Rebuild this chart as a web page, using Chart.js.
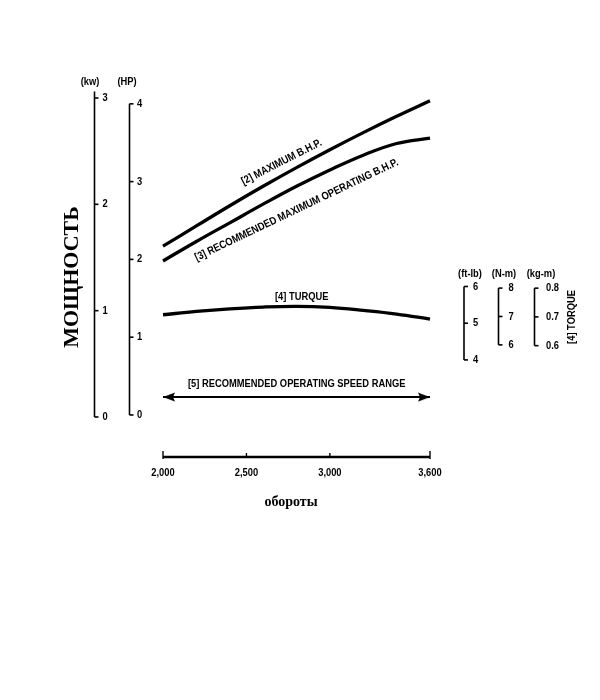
<!DOCTYPE html>
<html>
<head>
<meta charset="utf-8">
<title>Мощность</title>
<script src="https://cdn.jsdelivr.net/npm/chart.js@4.4.1/dist/chart.umd.min.js"></script>
<style>
  html, body { margin: 0; padding: 0; background: #fff; }
  #wrap { width: 600px; height: 700px; position: relative; }
</style>
</head>
<body>
<div id="wrap"><canvas id="powerChart"></canvas></div>
<script>
// engine speed, rpm
var rpm = [2000, 2200, 2400, 2600, 2800, 3000, 3200, 3400, 3600];
// [2] maximum b.h.p., HP
var maxBhp = [2.17, 2.43, 2.69, 2.94, 3.18, 3.41, 3.63, 3.84, 4.04];
// [3] recommended maximum operating b.h.p., HP
var recBhp = [1.98, 2.23, 2.47, 2.71, 2.94, 3.15, 3.34, 3.49, 3.56];
// [4] torque, ft-lb
var torque = [5.23, 5.32, 5.39, 5.44, 5.46, 5.43, 5.35, 5.25, 5.11];
// [5] recommended operating speed range
var speedRange = [2000, 3600];
var speedRangeLevel = 0.23;

var rpmTicks = [2000, 2500, 3000, 3600];
var kwTicks = [0, 1, 2, 3];
var hpTicks = [0, 1, 2, 3, 4];
var ftlbTicks = [4, 5, 6];
var nmTicks = [6, 7, 8];
var kgmTicks = [0.6, 0.7, 0.8];

var SANS = '"Liberation Sans", Arial, sans-serif';
var SERIF = '"Liberation Serif", "DejaVu Serif", serif';

function pairs(xs, ys) {
    return xs.map(function(x, i) { return {x: x, y: ys[i]}; });
}

function fmtRpm(v) {
    return v.toLocaleString('en-US');
}

// arrow head whose tip sits at the centre of the image
function arrowHead() {
    var c = document.createElement('canvas');
    c.width = 26; c.height = 10;
    var g = c.getContext('2d');
    g.fillStyle = '#000';
    g.beginPath();
    g.moveTo(13, 5);
    g.lineTo(1, 0.5);
    g.lineTo(3, 5);
    g.lineTo(1, 9.5);
    g.closePath();
    g.fill();
    return c;
}

function text(ctx, str, x, y, opts) {
    opts = opts || {};
    ctx.save();
    ctx.translate(x, y);
    if (opts.angle) ctx.rotate(opts.angle * Math.PI / 180);
    ctx.scale(opts.sx || 0.85, 1);
    ctx.font = opts.font || ('bold 11px ' + SANS);
    ctx.textAlign = opts.align || 'center';
    ctx.textBaseline = 'middle';
    ctx.fillText(str, 0, 0);
    ctx.restore();
}

function bracketAxis(ctx, scale, x, ticks, from, to, gap, fmt) {
    ctx.lineWidth = 1.6;
    ctx.beginPath();
    ctx.moveTo(x, scale.getPixelForValue(from));
    ctx.lineTo(x, scale.getPixelForValue(to));
    ctx.stroke();
    ticks.forEach(function(t) {
        var y = scale.getPixelForValue(t);
        ctx.beginPath();
        ctx.moveTo(x, y);
        ctx.lineTo(x + 4, y);
        ctx.stroke();
        text(ctx, fmt ? fmt(t) : String(t), x + gap, y, {align: 'left'});
    });
}

var axesPlugin = {
    id: 'bracketAxes',
    afterDraw: function(chart) {
        var ctx = chart.ctx;
        var s = chart.scales;
        var area = chart.chartArea;
        ctx.save();
        ctx.fillStyle = '#000';
        ctx.strokeStyle = '#000';

        // power axes
        bracketAxis(ctx, s.yKw, 94.5, kwTicks, 3.06, 0, 8);
        bracketAxis(ctx, s.yHp, 129.5, hpTicks, 4, 0, 7.5);
        text(ctx, '(kw)', 90, 82);
        text(ctx, '(HP)', 127, 82);
        text(ctx, 'МОЩНОСТЬ', 72, 277, {angle: -90, sx: 1, font: 'bold 22px ' + SERIF});

        // torque axes
        bracketAxis(ctx, s.yFtlb, 464, ftlbTicks, 6, 4, 9);
        bracketAxis(ctx, s.yNm, 498.5, nmTicks, 8, 6, 10);
        bracketAxis(ctx, s.yKgm, 534.5, kgmTicks, 0.8, 0.6, 11.5, function(v) { return v.toFixed(1); });
        text(ctx, '(ft-lb)', 470, 274);
        text(ctx, '(N-m)', 504, 274);
        text(ctx, '(kg-m)', 541, 274);
        text(ctx, '[4] TORQUE', 572, 317, {angle: -90});

        // speed axis
        var yAxis = area.bottom + 40;
        var x0 = s.x.getPixelForValue(rpmTicks[0]);
        var x1 = s.x.getPixelForValue(rpmTicks[rpmTicks.length - 1]);
        ctx.lineWidth = 2.4;
        ctx.beginPath();
        ctx.moveTo(x0, yAxis);
        ctx.lineTo(x1, yAxis);
        ctx.stroke();
        ctx.lineWidth = 1.4;
        rpmTicks.forEach(function(t, i) {
            var x = s.x.getPixelForValue(t);
            var end = (i === 0 || i === rpmTicks.length - 1);
            ctx.beginPath();
            ctx.moveTo(x, yAxis + (end ? 2 : 0));
            ctx.lineTo(x, yAxis - (end ? 6 : 4));
            ctx.stroke();
            text(ctx, fmtRpm(t), x, yAxis + 16);
        });
        text(ctx, 'обороты', 291, 502, {sx: 1, font: 'bold 14px ' + SERIF});

        // curve notes
        function at(r, scale, v) {
            return [s.x.getPixelForValue(r), scale.getPixelForValue(v)];
        }
        var p = at(2711, s.yHp, 3.25);
        text(ctx, '[2] MAXIMUM B.H.P.', p[0], p[1], {angle: -27});
        p = at(2801, s.yHp, 2.635);
        text(ctx, '[3] RECOMMENDED MAXIMUM OPERATING B.H.P.', p[0], p[1], {angle: -25.5});
        p = at(2831, s.yFtlb, 5.72);
        text(ctx, '[4] TURQUE', p[0], p[1]);
        p = at(2801, s.yHp, 0.40);
        text(ctx, '[5] RECOMMENDED OPERATING SPEED RANGE', p[0], p[1]);

        ctx.restore();
    }
};

var head = arrowHead();
var curve = {
    borderColor: '#000',
    borderWidth: 3.3,
    pointRadius: 0,
    tension: 0.4,
    fill: false,
    clip: false
};

var ctx = document.getElementById('powerChart').getContext('2d');
new Chart(ctx, {
    type: 'line',
    data: {
        datasets: [
            Object.assign({label: 'Maximum B.H.P.', data: pairs(rpm, maxBhp), yAxisID: 'yHp'}, curve),
            Object.assign({label: 'Recommended maximum operating B.H.P.', data: pairs(rpm, recBhp), yAxisID: 'yHp'}, curve),
            Object.assign({label: 'Torque', data: pairs(rpm, torque), yAxisID: 'yFtlb'}, curve),
            {
                label: 'Recommended operating speed range',
                data: pairs(speedRange, [speedRangeLevel, speedRangeLevel]),
                yAxisID: 'yHp',
                borderColor: '#000',
                borderWidth: 2,
                pointStyle: head,
                pointRotation: [180, 0],
                pointRadius: 6,
                clip: false
            }
        ]
    },
    options: {
        responsive: true,
        maintainAspectRatio: false,
        animation: false,
        layout: { padding: { left: 163, right: 170, top: 98, bottom: 283 } },
        plugins: { legend: { display: false }, tooltip: { enabled: false } },
        scales: {
            x: { type: 'linear', min: 2000, max: 3600, display: false },
            yKw: { type: 'linear', min: 0, max: 3, display: false },
            yHp: { type: 'linear', min: -0.026, max: 4.075, display: false },
            yFtlb: { type: 'linear', min: 2.445, max: 11.135, display: false },
            yNm: { type: 'linear', min: 3.46, max: 14.695, display: false },
            yKgm: { type: 'linear', min: 0.352, max: 1.461, display: false }
        }
    },
    plugins: [axesPlugin]
});
</script>
</body>
</html>
